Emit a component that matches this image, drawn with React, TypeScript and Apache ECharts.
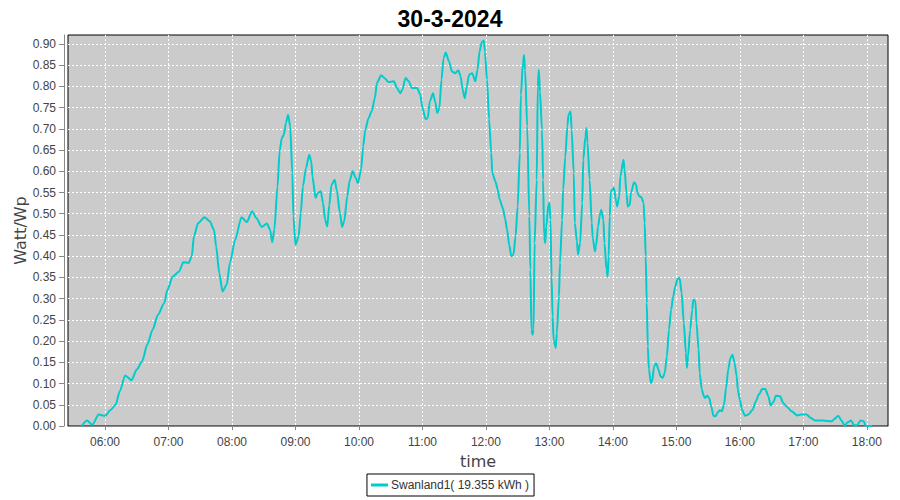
import React, { useEffect, useRef } from 'react';
import * as echarts from 'echarts';

const chartTitle = '30-3-2024';
const seriesName = 'Swanland1( 19.355 kWh )';
const xAxisName = 'time';
const yAxisName = 'Watt/Wp';
const xRange = ['05:25', '18:20'];
const xTickLabels = ['06:00', '07:00', '08:00', '09:00', '10:00', '11:00', '12:00', '13:00', '14:00', '15:00', '16:00', '17:00', '18:00'];
const yTicks = [0, 0.05, 0.1, 0.15, 0.2, 0.25, 0.3, 0.35, 0.4, 0.45, 0.5, 0.55, 0.6, 0.65, 0.7, 0.75, 0.8, 0.85, 0.9];
const yMax = 0.921;

const times = [
  '05:38', '05:43', '05:48', '05:54', '06:00', '06:05', '06:10', '06:14', '06:19', '06:25', '06:30', '06:35', '06:40', '06:45', '06:50', '06:56', '06:59',
  '07:04', '07:10', '07:14', '07:19', '07:22', '07:24', '07:28', '07:34', '07:39', '07:43', '07:45', '07:48', '07:51', '07:55', '07:58',
  '08:03', '08:09', '08:14', '08:19', '08:23', '08:28', '08:33', '08:36', '08:38', '08:40', '08:43', '08:45', '08:47', '08:49', '08:51', '08:53', '08:55', '08:57', '08:58',
  '09:00', '09:03', '09:05', '09:07', '09:10', '09:13', '09:15', '09:16', '09:19', '09:21', '09:24', '09:26', '09:28', '09:30', '09:32', '09:34', '09:37', '09:39', '09:42', '09:44', '09:46', '09:49', '09:51', '09:54', '09:57', '09:59',
  '10:02', '10:04', '10:06', '10:09', '10:12', '10:15', '10:17', '10:21', '10:24', '10:28', '10:33', '10:36', '10:39', '10:41', '10:44', '10:47', '10:50', '10:55', '10:58',
  '11:00', '11:03', '11:05', '11:07', '11:10', '11:12', '11:14', '11:16', '11:18', '11:20', '11:22', '11:25', '11:28', '11:31', '11:34', '11:36', '11:38', '11:40', '11:42', '11:44', '11:47', '11:50', '11:52', '11:54', '11:56', '11:58', '11:59',
  '12:01', '12:03', '12:05', '12:06', '12:09', '12:11', '12:13', '12:16', '12:18', '12:20', '12:22', '12:24', '12:26', '12:28', '12:30', '12:32', '12:33', '12:35', '12:36', '12:37', '12:39', '12:41', '12:42', '12:43', '12:44', '12:45', '12:46', '12:48', '12:49', '12:50', '12:51', '12:53', '12:54', '12:55', '12:56', '12:57', '12:59',
  '13:00', '13:01', '13:02', '13:03', '13:04', '13:06', '13:07', '13:09', '13:10', '13:12', '13:13', '13:15', '13:17', '13:18', '13:20', '13:21', '13:23', '13:24', '13:26', '13:27', '13:29', '13:31', '13:32', '13:34', '13:35', '13:36', '13:38', '13:40', '13:41', '13:43', '13:44', '13:46', '13:48', '13:49', '13:51', '13:52', '13:54', '13:55', '13:56', '13:57', '13:58',
  '14:00', '14:01', '14:03', '14:04', '14:06', '14:07', '14:10', '14:11', '14:13', '14:14', '14:16', '14:17', '14:20', '14:22', '14:23', '14:25', '14:27', '14:29', '14:30', '14:31', '14:32', '14:33', '14:34', '14:36', '14:37', '14:39', '14:41', '14:43', '14:45', '14:47', '14:49', '14:51', '14:53', '14:55', '14:57', '14:59',
  '15:01', '15:03', '15:05', '15:07', '15:09', '15:10', '15:11', '15:13', '15:15', '15:16', '15:18', '15:19', '15:21', '15:22', '15:24', '15:26', '15:27', '15:29', '15:31', '15:33', '15:35', '15:37', '15:39', '15:41', '15:43', '15:45', '15:47', '15:49', '15:51', '15:53', '15:55', '15:57', '15:58',
  '16:00', '16:02', '16:05', '16:08', '16:12', '16:15', '16:18', '16:21', '16:24', '16:27', '16:29', '16:32', '16:34', '16:38', '16:41', '16:44', '16:49', '16:54', '16:58',
  '17:03', '17:07', '17:11', '17:19', '17:27', '17:29', '17:33', '17:36', '17:39', '17:42', '17:45', '17:48', '17:51', '17:54', '17:57', '17:59', '18:05'
];

const values = [
  0.000, 0.013, 0.003, 0.027, 0.024, 0.037, 0.050, 0.082, 0.119, 0.108, 0.133, 0.152, 0.192, 0.227, 0.262, 0.290, 0.321,
  0.352, 0.364, 0.386, 0.384, 0.400, 0.447, 0.478, 0.492, 0.482, 0.462, 0.423, 0.360, 0.317, 0.333, 0.384,
  0.439, 0.492, 0.480, 0.506, 0.490, 0.469, 0.477, 0.462, 0.433, 0.462, 0.564, 0.647, 0.678, 0.686, 0.714, 0.733, 0.706, 0.596, 0.494,
  0.427, 0.447, 0.502, 0.564, 0.608, 0.639, 0.623, 0.588, 0.537, 0.549, 0.553, 0.525, 0.486, 0.470, 0.521, 0.568, 0.580, 0.556, 0.502, 0.469, 0.482, 0.541, 0.576, 0.600, 0.584, 0.572,
  0.604, 0.659, 0.698, 0.725, 0.741, 0.772, 0.808, 0.826, 0.820, 0.810, 0.812, 0.796, 0.784, 0.792, 0.820, 0.812, 0.796, 0.796, 0.780,
  0.749, 0.723, 0.725, 0.765, 0.784, 0.765, 0.737, 0.749, 0.816, 0.867, 0.880, 0.859, 0.835, 0.831, 0.838, 0.824, 0.792, 0.772, 0.800, 0.827, 0.831, 0.812, 0.839, 0.882, 0.904, 0.908, 0.882,
  0.816, 0.722, 0.643, 0.596, 0.576, 0.558, 0.533, 0.513, 0.490, 0.462, 0.427, 0.400, 0.404, 0.447, 0.517, 0.643, 0.780, 0.855, 0.874, 0.839, 0.706, 0.494, 0.368, 0.227, 0.215, 0.227, 0.431, 0.580, 0.800, 0.839, 0.788, 0.698, 0.580, 0.447, 0.431, 0.470, 0.521,
  0.525, 0.486, 0.352, 0.258, 0.203, 0.184, 0.219, 0.305, 0.384, 0.486, 0.557, 0.635, 0.706, 0.733, 0.741, 0.698, 0.596, 0.478, 0.435, 0.404, 0.431, 0.525, 0.627, 0.682, 0.702, 0.667, 0.580, 0.478, 0.443, 0.411, 0.423, 0.470, 0.502, 0.509, 0.486, 0.431, 0.368, 0.352, 0.400, 0.494, 0.553,
  0.557, 0.561, 0.529, 0.517, 0.541, 0.588, 0.627, 0.604, 0.545, 0.517, 0.521, 0.549, 0.574, 0.568, 0.550, 0.541, 0.539, 0.525, 0.478, 0.400, 0.290, 0.188, 0.133, 0.101, 0.105, 0.141, 0.148, 0.133, 0.117, 0.113, 0.125, 0.164, 0.227, 0.274, 0.305, 0.329,
  0.346, 0.349, 0.313, 0.243, 0.172, 0.137, 0.164, 0.227, 0.274, 0.298, 0.294, 0.243, 0.180, 0.125, 0.086, 0.070, 0.066, 0.071, 0.066, 0.046, 0.024, 0.023, 0.032, 0.037, 0.035, 0.050, 0.090, 0.133, 0.160, 0.168, 0.148, 0.117, 0.086,
  0.062, 0.038, 0.024, 0.027, 0.038, 0.058, 0.074, 0.087, 0.087, 0.070, 0.048, 0.058, 0.071, 0.070, 0.054, 0.046, 0.035, 0.025, 0.027,
  0.027, 0.019, 0.013, 0.013, 0.011, 0.016, 0.024, 0.013, 0.001, 0.009, 0.013, 0.002, 0.002, 0.013, 0.011, 0.000, 0.000
];

function toMin(s: string): number {
  const [h, m] = s.split(':').map(Number);
  return h * 60 + m;
}
function fmtMin(v: number): string {
  const h = Math.floor(v / 60);
  const m = Math.round(v - h * 60);
  return String(h).padStart(2, '0') + ':' + String(m).padStart(2, '0');
}

export default function App() {
  const ref = useRef<HTMLDivElement>(null);
  useEffect(() => {
    if (!ref.current) return;
    const chart = echarts.init(ref.current, null, { renderer: 'svg' });
    const data = times.map((t, i) => [toMin(t), values[i]]);
    const xTicks = xTickLabels.map(toMin);
    const labelFont = { fontFamily: 'Liberation Sans', fontSize: 12, color: '#444' };
    chart.setOption({
      animation: false,
      backgroundColor: '#ffffff',
      title: {
        text: chartTitle,
        left: 'center',
        top: 2,
        textStyle: { fontFamily: 'Liberation Sans', fontSize: 23, fontWeight: 'bold', color: '#000' },
      },
      legend: {
        data: [seriesName],
        left: 'center',
        top: 474,
        icon: 'rect',
        itemWidth: 17,
        itemHeight: 3,
        itemGap: 4,
        padding: [5, 5, 5, 4],
        borderColor: '#000',
        borderWidth: 1,
        textStyle: { fontFamily: 'Liberation Sans', fontSize: 12, color: '#333', padding: [0, 0, 0, -2] },
      },
      grid: {
        left: 68,
        right: 12,
        top: 35,
        bottom: 74,
        show: true,
        backgroundColor: '#cbcbcb',
        borderColor: '#000',
        borderWidth: 1,
      },
      xAxis: {
        type: 'value',
        min: toMin(xRange[0]),
        max: toMin(xRange[1]),
        offset: 5,
        name: xAxisName,
        nameLocation: 'middle',
        nameGap: 22,
        nameMoveOverlap: false,
        nameTextStyle: { fontFamily: 'DejaVu Sans', fontSize: 16, color: '#444' },
        axisLine: { show: true, lineStyle: { color: '#888' } },
        axisTick: { show: true, length: 4, lineStyle: { color: '#888' }, customValues: xTicks },
        axisLabel: { ...labelFont, margin: 5, customValues: xTicks, formatter: (v: number) => fmtMin(v) },
        splitLine: { show: true, lineStyle: { color: '#ffffff', type: [2, 2], width: 1 } },
      },
      yAxis: {
        type: 'value',
        min: 0,
        max: yMax,
        offset: 4,
        name: yAxisName,
        nameLocation: 'middle',
        nameGap: 36,
        nameMoveOverlap: false,
        nameRotate: 90,
        nameTextStyle: { fontFamily: 'DejaVu Sans', fontSize: 16, color: '#444' },
        axisLine: { show: true, lineStyle: { color: '#888' } },
        axisTick: { show: true, length: 5, lineStyle: { color: '#888' }, customValues: yTicks },
        axisLabel: { ...labelFont, margin: 8, customValues: yTicks, formatter: (v: number) => v.toFixed(2) },
        splitLine: { show: true, lineStyle: { color: '#ffffff', type: [2, 2], width: 1 } },
      },
      series: [
        {
          name: seriesName,
          type: 'line',
          data,
          showSymbol: false,
          smooth: 0.25,
          smoothMonotone: 'x',
          lineStyle: { color: '#00cccc', width: 2 },
          itemStyle: { color: '#00cccc' },
        },
      ],
    });
    return () => chart.dispose();
  }, []);
  return <div ref={ref} style={{ position: 'fixed', left: 0, top: 0, width: 900, height: 500 }} />;
}
